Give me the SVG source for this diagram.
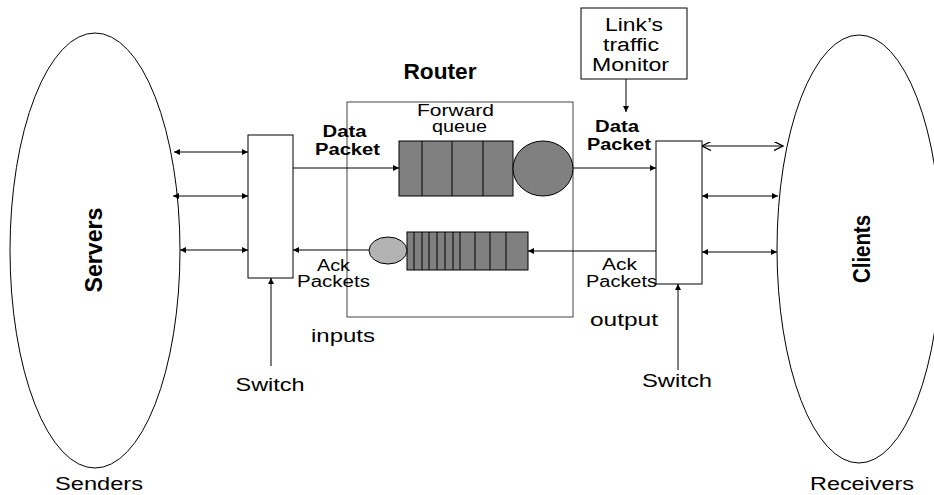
<svg xmlns="http://www.w3.org/2000/svg" width="934" height="495" viewBox="0 0 934 495">
<style>
text{font-family:"Liberation Sans",Arial,sans-serif;fill:#000}
.t18{font-size:18px}
.t16{font-size:16px}
.b{font-weight:bold}
.ln{stroke:#000;stroke-width:1;fill:none}
.box{fill:#fff;stroke:#000;stroke-width:1}
.q{fill:#808080;stroke:#000;stroke-width:1}
</style>
<defs>
<marker id="ah" viewBox="0 0 10 10" refX="10" refY="5" markerWidth="8" markerHeight="6" markerUnits="userSpaceOnUse" orient="auto-start-reverse">
<path d="M0,0 L10,5 L0,10 z" fill="#000"/>
</marker>
<marker id="oh" viewBox="0 0 10 10" refX="10" refY="5" markerWidth="10" markerHeight="9" markerUnits="userSpaceOnUse" orient="auto-start-reverse">
<path d="M0,0 L10,5 L0,10" fill="none" stroke="#000" stroke-width="1.5"/>
</marker>
</defs>

<g id="servers">
<ellipse cx="95" cy="250.5" rx="85" ry="217.5" class="box"/>
<text class="b" font-size="23" transform="translate(102,250) rotate(-90)" text-anchor="middle" textLength="85" lengthAdjust="spacingAndGlyphs">Servers</text>
<text class="t18" x="99" y="490" text-anchor="middle" textLength="88" lengthAdjust="spacingAndGlyphs">Senders</text>
</g>

<g id="clients">
<ellipse cx="859" cy="249" rx="82" ry="214" class="box"/>
<text class="b" font-size="23" transform="translate(870,249) rotate(-90)" text-anchor="middle" textLength="68" lengthAdjust="spacingAndGlyphs">Clients</text>
<text class="t18" x="862" y="490" text-anchor="middle" textLength="104" lengthAdjust="spacingAndGlyphs">Receivers</text>
</g>

<g id="router">
<text class="b" font-size="22" x="440" y="79" text-anchor="middle" textLength="73" lengthAdjust="spacingAndGlyphs">Router</text>
<rect x="347" y="102" width="226" height="215" fill="none" stroke="#444" stroke-width="1"/>
<text class="t18" x="343" y="342" text-anchor="middle" textLength="64" lengthAdjust="spacingAndGlyphs">inputs</text>
<text class="t18" x="624" y="326" text-anchor="middle" textLength="68" lengthAdjust="spacingAndGlyphs">output</text>
</g>

<g id="forward-queue">
<text class="t16" x="455.5" y="116" text-anchor="middle" textLength="77" lengthAdjust="spacingAndGlyphs">Forward</text>
<text class="t16" x="459.5" y="132" text-anchor="middle" textLength="55" lengthAdjust="spacingAndGlyphs">queue</text>
<rect x="399" y="141" width="114" height="55" class="q"/>
<path d="M422,141V196M452,141V196M483,141V196" class="ln"/>
<ellipse cx="543" cy="168.5" rx="30" ry="27.5" class="q"/>
</g>

<g id="ack-queue">
<rect x="407" y="232" width="121" height="38" class="q"/>
<path d="M414,232V270M422,232V270M429,232V270M437,232V270M445,232V270M453,232V270M460,232V270M475,232V270M490,232V270M506,232V270" class="ln"/>
<ellipse cx="388" cy="250.5" rx="19" ry="13.5" fill="#b3b3b3" stroke="#000" stroke-width="1"/>
</g>

<g id="left-switch">
<rect x="248" y="135" width="45" height="143" class="box"/>
<text class="t18" x="270" y="391" text-anchor="middle" textLength="69" lengthAdjust="spacingAndGlyphs">Switch</text>
</g>

<g id="right-switch">
<rect x="656" y="141" width="46" height="143" class="box"/>
<text class="t18" x="677" y="387" text-anchor="middle" textLength="70" lengthAdjust="spacingAndGlyphs">Switch</text>
</g>

<g id="monitor">
<rect x="581" y="8" width="106" height="71" class="box"/>
<text class="t18" x="634" y="31" text-anchor="middle" textLength="58" lengthAdjust="spacingAndGlyphs">Link’s</text>
<text class="t18" x="631" y="51" text-anchor="middle" textLength="56" lengthAdjust="spacingAndGlyphs">traffic</text>
<text class="t18" x="630.5" y="71" text-anchor="middle" textLength="77" lengthAdjust="spacingAndGlyphs">Monitor</text>
</g>

<g id="labels">
<text class="t16 b" x="344.5" y="137" text-anchor="middle" textLength="44" lengthAdjust="spacingAndGlyphs">Data</text>
<text class="t16 b" x="347.5" y="155" text-anchor="middle" textLength="65" lengthAdjust="spacingAndGlyphs">Packet</text>
<text class="t16 b" x="617" y="132" text-anchor="middle" textLength="44" lengthAdjust="spacingAndGlyphs">Data</text>
<text class="t16 b" x="619" y="150" text-anchor="middle" textLength="64" lengthAdjust="spacingAndGlyphs">Packet</text>
<text class="t16" x="333.5" y="271" text-anchor="middle" textLength="33" lengthAdjust="spacingAndGlyphs">Ack</text>
<text class="t16" x="333.5" y="287" text-anchor="middle" textLength="73" lengthAdjust="spacingAndGlyphs">Packets</text>
<text class="t16" x="619.5" y="270" text-anchor="middle" textLength="35" lengthAdjust="spacingAndGlyphs">Ack</text>
<text class="t16" x="621.5" y="287" text-anchor="middle" textLength="71" lengthAdjust="spacingAndGlyphs">Packets</text>
</g>

<g id="connectors">
<line x1="174" y1="152" x2="248" y2="152" class="ln" marker-start="url(#ah)" marker-end="url(#ah)"/>
<line x1="173" y1="196" x2="248" y2="196" class="ln" marker-start="url(#ah)" marker-end="url(#ah)"/>
<line x1="180" y1="250" x2="248" y2="250" class="ln" marker-start="url(#ah)" marker-end="url(#ah)"/>
<line x1="293" y1="168" x2="399" y2="168" class="ln" marker-end="url(#ah)"/>
<line x1="369" y1="250" x2="293" y2="250" class="ln" marker-end="url(#ah)"/>
<line x1="573" y1="168" x2="656" y2="168" class="ln" marker-end="url(#ah)"/>
<line x1="656" y1="251" x2="528" y2="251" class="ln" stroke-width="1.6" marker-end="url(#ah)"/>
<line x1="702" y1="146" x2="783" y2="146" class="ln" marker-start="url(#oh)" marker-end="url(#oh)"/>
<line x1="702" y1="196" x2="778" y2="196" class="ln" marker-start="url(#ah)" marker-end="url(#ah)"/>
<line x1="702" y1="252" x2="777" y2="252" class="ln" marker-start="url(#ah)" marker-end="url(#ah)"/>
<line x1="271" y1="366" x2="271" y2="278" class="ln" marker-end="url(#ah)"/>
<line x1="678" y1="370" x2="678" y2="284" class="ln" marker-end="url(#ah)"/>
<line x1="626" y1="79" x2="626" y2="112" class="ln" marker-end="url(#ah)"/>
</g>
</svg>
